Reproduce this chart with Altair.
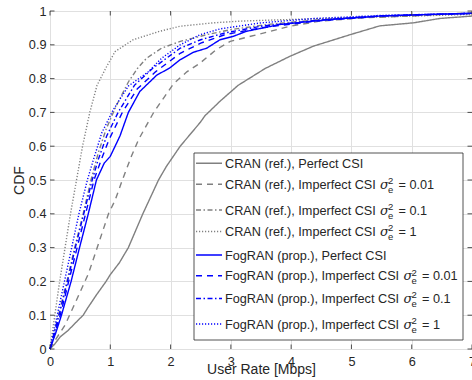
import altair as alt
import pandas as pd

# ---------------- data ----------------
series_names = [
    "CRAN (ref.), Perfect CSI",
    "CRAN (ref.), Imperfect CSI 0.01",
    "CRAN (ref.), Imperfect CSI 0.1",
    "CRAN (ref.), Imperfect CSI 1",
    "FogRAN (prop.), Perfect CSI",
    "FogRAN (prop.), Imperfect CSI 0.01",
    "FogRAN (prop.), Imperfect CSI 0.1",
    "FogRAN (prop.), Imperfect CSI 1",
]
legend_texts = [
    "CRAN (ref.), Perfect CSI",
    "CRAN (ref.), Imperfect CSI",
    "CRAN (ref.), Imperfect CSI",
    "CRAN (ref.), Imperfect CSI",
    "FogRAN (prop.), Perfect CSI",
    "FogRAN (prop.), Imperfect CSI",
    "FogRAN (prop.), Imperfect CSI",
    "FogRAN (prop.), Imperfect CSI",
]
sigma_values = ["", "= 0.01", "= 0.1", "= 1", "", "= 0.01", "= 0.1", "= 1"]

cran_perfect_x = [0, 0.08, 0.17, 0.30, 0.46, 0.55, 0.62, 0.77, 0.93, 1.0, 1.15, 1.30, 1.54, 1.80, 1.93, 2.16, 2.49, 2.57, 2.82, 3.12, 3.30, 3.57, 3.98, 4.37, 4.98, 5.47, 6.03, 6.47, 7.0]
cran_perfect_y = [0, 0.015, 0.036, 0.055, 0.084, 0.10, 0.12, 0.16, 0.20, 0.22, 0.255, 0.30, 0.40, 0.50, 0.54, 0.60, 0.67, 0.69, 0.733, 0.78, 0.80, 0.83, 0.866, 0.896, 0.93, 0.956, 0.965, 0.978, 0.985]

cran_001_x = [0, 0.10, 0.25, 0.44, 0.64, 0.77, 0.97, 1.08, 1.20, 1.35, 1.47, 1.72, 2.05, 2.27, 2.49, 2.76, 2.99, 3.48, 3.98, 4.48, 5.20, 6.00, 7.0]
cran_001_y = [0, 0.03, 0.071, 0.145, 0.224, 0.293, 0.40, 0.44, 0.50, 0.57, 0.62, 0.70, 0.785, 0.82, 0.846, 0.886, 0.91, 0.932, 0.955, 0.97, 0.98, 0.985, 0.995]

cran_01_x = [0, 0.14, 0.28, 0.41, 0.55, 0.68, 0.80, 0.93, 1.10, 1.30, 1.45, 1.60, 1.85, 2.16, 2.60, 3.00, 3.60, 4.50, 5.50, 7.0]
cran_01_y = [0, 0.10, 0.20, 0.30, 0.40, 0.50, 0.58, 0.65, 0.72, 0.79, 0.83, 0.86, 0.89, 0.91, 0.93, 0.945, 0.96, 0.975, 0.985, 0.993]

cran_1_x = [0, 0.08, 0.16, 0.25, 0.34, 0.44, 0.54, 0.66, 0.78, 0.94, 1.08, 1.38, 1.82, 2.16, 2.71, 3.15, 4.0, 5.0, 6.0, 7.0]
cran_1_y = [0, 0.10, 0.20, 0.30, 0.40, 0.50, 0.60, 0.70, 0.78, 0.836, 0.88, 0.915, 0.94, 0.955, 0.965, 0.97, 0.975, 0.98, 0.985, 0.99]

fog_perfect_x = [0, 0.10, 0.19, 0.35, 0.49, 0.635, 0.77, 0.90, 1.0, 1.08, 1.16, 1.30, 1.49, 1.77, 1.99, 2.16, 2.38, 2.60, 2.82, 3.04, 3.26, 3.81, 4.64, 5.47, 6.30, 7.0]
fog_perfect_y = [0, 0.05, 0.10, 0.20, 0.30, 0.40, 0.50, 0.55, 0.57, 0.60, 0.63, 0.70, 0.762, 0.81, 0.832, 0.856, 0.878, 0.89, 0.915, 0.925, 0.94, 0.96, 0.975, 0.985, 0.99, 0.993]

fog_001_x = [0, 0.17, 0.31, 0.45, 0.59, 0.73, 0.85, 0.98, 1.20, 1.45, 1.75, 2.16, 2.50, 2.90, 3.50, 4.40, 5.50, 7.0]
fog_001_y = [0, 0.10, 0.20, 0.30, 0.40, 0.50, 0.56, 0.62, 0.70, 0.77, 0.82, 0.875, 0.905, 0.93, 0.95, 0.97, 0.985, 0.993]

fog_01_x = [0, 0.15, 0.29, 0.42, 0.56, 0.70, 0.80, 0.94, 1.13, 1.40, 1.70, 2.16, 2.50, 2.90, 3.50, 4.40, 5.50, 7.0]
fog_01_y = [0, 0.10, 0.20, 0.30, 0.40, 0.50, 0.56, 0.63, 0.70, 0.78, 0.83, 0.89, 0.915, 0.935, 0.955, 0.972, 0.986, 0.993]

fog_1_x = [0, 0.12, 0.24, 0.36, 0.48, 0.62, 0.72, 0.86, 1.05, 1.30, 1.63, 1.85, 2.16, 2.49, 2.82, 3.50, 4.40, 5.50, 7.0]
fog_1_y = [0, 0.10, 0.20, 0.30, 0.40, 0.50, 0.56, 0.64, 0.708, 0.778, 0.82, 0.86, 0.90, 0.93, 0.947, 0.965, 0.978, 0.987, 0.993]

x_ticks = [0, 1, 2, 3, 4, 5, 6, 7]
y_ticks = [0, 0.1, 0.2, 0.3, 0.4, 0.5, 0.6, 0.7, 0.8, 0.9, 1.0]

all_x = [cran_perfect_x, cran_001_x, cran_01_x, cran_1_x, fog_perfect_x, fog_001_x, fog_01_x, fog_1_x]
all_y = [cran_perfect_y, cran_001_y, cran_01_y, cran_1_y, fog_perfect_y, fog_001_y, fog_01_y, fog_1_y]

rows = []
for name, xs, ys in zip(series_names, all_x, all_y):
    for xv, yv in zip(xs, ys):
        rows.append({"series": name, "rate": xv, "cdf": yv})
df = pd.DataFrame(rows)

# ---------------- styles / layout ----------------
W, H = 422, 338
GRAY, BLUE, INK = "#808080", "#0000ff", "#262626"
colors = [GRAY] * 4 + [BLUE] * 4
dash_patterns = [[1, 0], [6, 5], [5, 2.5, 1.5, 2.5], [1.2, 1.8]] * 2
FONT = "Liberation Sans"

xscale = alt.Scale(domain=[0, 7], nice=False, zero=False)
yscale = alt.Scale(domain=[0, 1], nice=False)
cscale = alt.Scale(domain=series_names, range=colors)
dscale = alt.Scale(domain=series_names, range=dash_patterns)


def px_to_rate(p):
    return (p - 50) / (W / 7)


def px_to_cdf(p):
    return 1 - (p - 11) / H


# legend entry vertical positions (absolute pixel of line centre)
legend_line_px = [163.3, 184.3, 210.0, 231.5, 255.0, 275.7, 298.5, 324.0]
sigma_px = [None, 380.0, 380.0, 380.0, None, 403.5, 403.5, 403.5]

leg = pd.DataFrame({
    "series": series_names,
    "label": legend_texts,
    "sval": sigma_values,
    "ly": [px_to_cdf(p) for p in legend_line_px],
    "tb": [px_to_cdf(p + 4.6) for p in legend_line_px],
    "sup": [px_to_cdf(p - 0.2) for p in legend_line_px],
    "sub": [px_to_cdf(p + 8.6) for p in legend_line_px],
    "sx": [px_to_rate(s) if s else 0 for s in sigma_px],
    "supx": [px_to_rate(s + 8.0) if s else 0 for s in sigma_px],
    "eqx": [px_to_rate(s + 18.5) if s else 0 for s in sigma_px],
})
leg_sig = leg[leg["sval"] != ""]

x_axis = alt.Axis(values=x_ticks, format="d", title="User Rate [Mbps]",
                  grid=True, domain=False, ticks=False, labelFlush=False,
                  labelOverlap=False, labelPadding=6, labelFontSize=12.7,
                  titleFontSize=14, titleFontWeight="normal",
                  titleY=24.5, titleBaseline="alphabetic", titleX=W / 2)
y_axis = alt.Axis(values=y_ticks, format=".1~f", title="CDF",
                  grid=True, domain=False, ticks=False, labelFlush=False,
                  labelOverlap=False, labelPadding=4, labelFontSize=12.7,
                  titleFontSize=14, titleFontWeight="normal",
                  titleX=-26.5, titleY=H / 2, titleBaseline="alphabetic",
                  titleAngle=270, titleAlign="center")


def X(field):
    return alt.X(field, scale=xscale, axis=x_axis)


def Y(field):
    return alt.Y(field, scale=yscale, axis=y_axis)


lines = alt.Chart(df).mark_line(strokeWidth=1.4).encode(
    x=X("rate:Q"),
    y=Y("cdf:Q"),
    color=alt.Color("series:N", scale=cscale, legend=None),
    strokeDash=alt.StrokeDash("series:N", scale=dscale, legend=None),
    detail="series:N",
)

xt = pd.DataFrame({"t": x_ticks})
yt = pd.DataFrame({"t": y_ticks})
tick_b = alt.Chart(xt).mark_rule(color=INK, strokeWidth=0.8).encode(
    x=X("t:Q"), y=alt.value(H), y2=alt.value(H - 4.5))
tick_t = alt.Chart(xt).mark_rule(color=INK, strokeWidth=0.8).encode(
    x=X("t:Q"), y=alt.value(0), y2=alt.value(4.5))
tick_l = alt.Chart(yt).mark_rule(color=INK, strokeWidth=0.8).encode(
    y=Y("t:Q"), x=alt.value(0), x2=alt.value(4.5))
tick_r = alt.Chart(yt).mark_rule(color=INK, strokeWidth=0.8).encode(
    y=Y("t:Q"), x=alt.value(W), x2=alt.value(W - 4.5))

box = alt.Chart(pd.DataFrame({"a": [0]})).mark_rect(
    fill="white", stroke=INK, strokeWidth=0.8).encode(
    x=alt.value(194 - 50), x2=alt.value(463 - 50),
    y=alt.value(153 - 11), y2=alt.value(340 - 11))

leg_lines = alt.Chart(leg).mark_rule(strokeWidth=1.4).encode(
    x=alt.value(196 - 50), x2=alt.value(222 - 50),
    y=Y("ly:Q"),
    color=alt.Color("series:N", scale=cscale, legend=None),
    strokeDash=alt.StrokeDash("series:N", scale=dscale, legend=None),
)
leg_text = alt.Chart(leg).mark_text(
    align="left", baseline="alphabetic", fontSize=12.7, font=FONT, color=INK).encode(
    x=alt.value(225 - 50), y=Y("tb:Q"), text="label:N")
leg_sigma = alt.Chart(leg_sig).mark_text(
    align="left", baseline="alphabetic", fontSize=13, font="DejaVu Serif",
    fontStyle="italic", color=INK, text="σ").encode(
    x=X("sx:Q"), y=Y("tb:Q"))
leg_sup = alt.Chart(leg_sig).mark_text(
    align="left", baseline="alphabetic", fontSize=9.5, font=FONT,
    color=INK, text="2").encode(
    x=X("supx:Q"), y=Y("sup:Q"))
leg_sub = alt.Chart(leg_sig).mark_text(
    align="left", baseline="alphabetic", fontSize=9.5, font=FONT,
    color=INK, text="e").encode(
    x=X("supx:Q"), y=Y("sub:Q"))
leg_eq = alt.Chart(leg_sig).mark_text(
    align="left", baseline="alphabetic", fontSize=12.7, font=FONT,
    color=INK).encode(
    x=X("eqx:Q"), y=Y("tb:Q"), text="sval:N")

chart = alt.layer(
    lines, tick_b, tick_t, tick_l, tick_r, box,
    leg_lines, leg_text, leg_sigma, leg_sup, leg_sub, leg_eq,
).properties(
    width=W, height=H,
    autosize=alt.AutoSizeParams(type="none"),
    padding={"left": 50, "top": 11, "right": 0, "bottom": 31},
    background="white",
).configure_view(
    stroke=INK, strokeWidth=1,
).configure_axis(
    gridColor="#e0e0e0", gridWidth=1, labelColor=INK, titleColor=INK,
    labelFont=FONT, titleFont=FONT,
)

chart.save("out.html", embed_options={"renderer": "svg", "actions": False})
